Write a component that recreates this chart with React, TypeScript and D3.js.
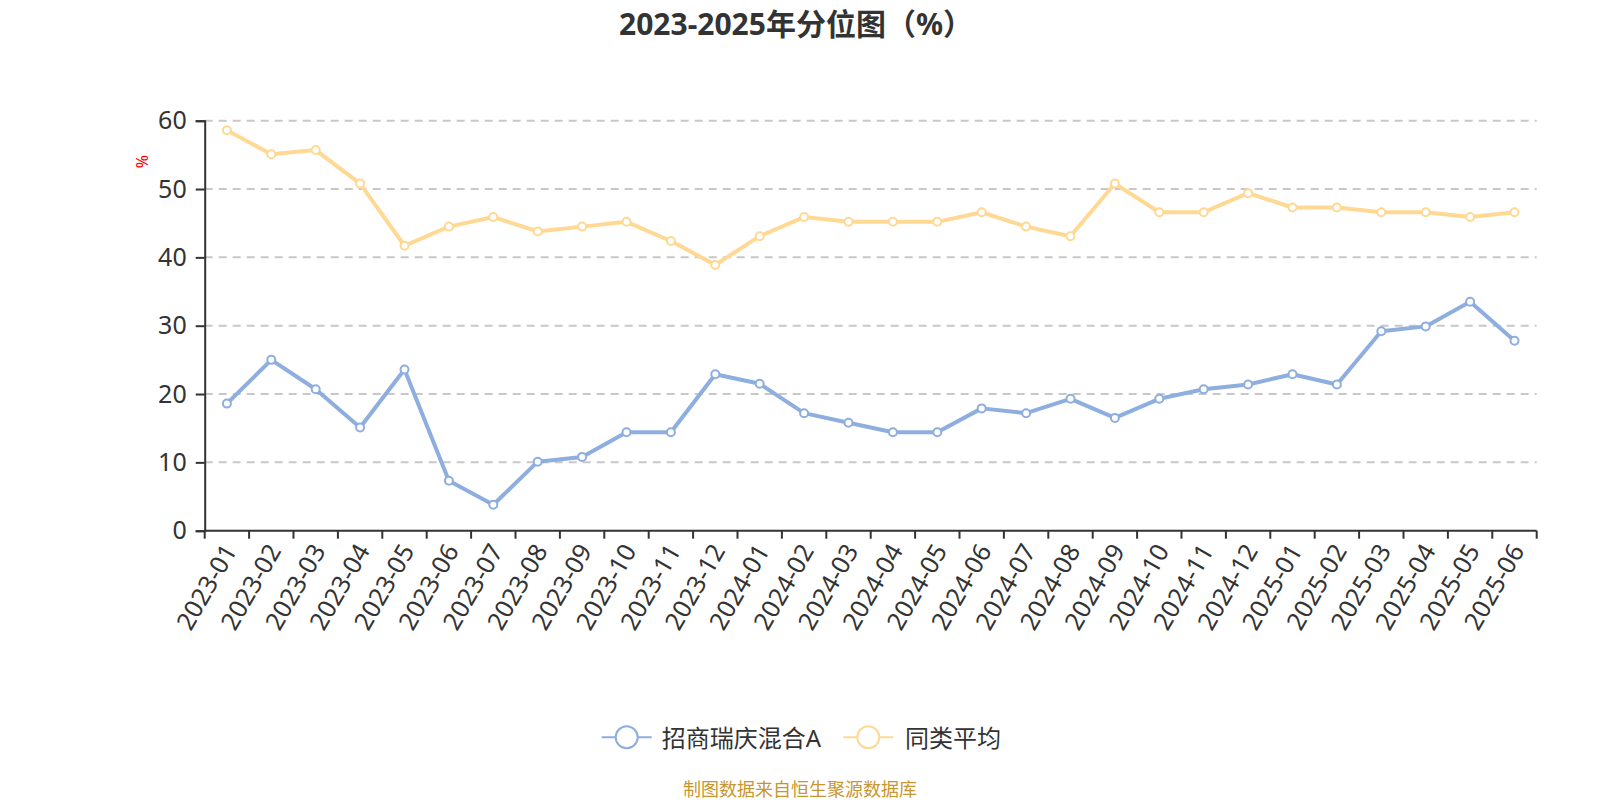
import { useEffect, useRef } from 'react';
import * as d3 from 'd3';

const months = [
  '2023-01', '2023-02', '2023-03', '2023-04', '2023-05', '2023-06',
  '2023-07', '2023-08', '2023-09', '2023-10', '2023-11', '2023-12',
  '2024-01', '2024-02', '2024-03', '2024-04', '2024-05', '2024-06',
  '2024-07', '2024-08', '2024-09', '2024-10', '2024-11', '2024-12',
  '2025-01', '2025-02', '2025-03', '2025-04', '2025-05', '2025-06',
];

const fundValues = [
  18.6, 25.0, 20.7, 15.1, 23.6, 7.3, 3.8, 10.1, 10.8, 14.4,
  14.4, 22.9, 21.5, 17.2, 15.8, 14.4, 14.4, 17.9, 17.2, 19.3,
  16.5, 19.3, 20.7, 21.4, 22.9, 21.4, 29.2, 29.9, 33.5, 27.8,
];

const peerValues = [
  58.6, 55.1, 55.7, 50.8, 41.7, 44.5, 45.9, 43.8, 44.5, 45.2,
  42.4, 38.9, 43.1, 45.9, 45.2, 45.2, 45.2, 46.6, 44.5, 43.1,
  50.8, 46.6, 46.6, 49.4, 47.3, 47.3, 46.6, 46.6, 45.9, 46.6,
];

const yTicks = [0, 10, 20, 30, 40, 50, 60];

const seriesNames = ['招商瑞庆混合A', '同类平均'];
const seriesColors = ['#8daede', '#ffd993'];

const FONT = '"Noto Sans", "Noto Sans CJK SC", sans-serif';

const App = () => {
  const svgRef = useRef<SVGSVGElement>(null);

  useEffect(() => {
    if (!svgRef.current) return;
    const svg = d3.select(svgRef.current);
    svg.selectAll('*').remove();

    const left = 204.7;
    const right = 1536.7;
    const top = 120.7;
    const bottom = 530.7;

    const x = d3.scaleBand<string>().domain(months).range([left, right]).padding(0);
    const y = d3.scaleLinear().domain([0, 60]).range([bottom, top]);
    const cx = (m: string) => (x(m) ?? 0) + x.bandwidth() / 2;

    // title
    svg.append('text')
      .attr('x', 796)
      .attr('y', 23)
      .attr('text-anchor', 'middle')
      .attr('dominant-baseline', 'central')
      .attr('font-family', FONT)
      .attr('font-size', 30)
      .attr('font-weight', 'bold')
      .attr('fill', '#333')
      .text('2023-2025年分位图（%）');

    // grid lines
    svg.append('g')
      .selectAll('line')
      .data(yTicks.filter(t => t > 0))
      .enter()
      .append('line')
      .attr('x1', left)
      .attr('x2', right)
      .attr('y1', d => y(d))
      .attr('y2', d => y(d))
      .attr('stroke', '#c8c8c8')
      .attr('stroke-width', 2)
      .attr('stroke-dasharray', '8,6');

    // y axis
    const yAxis = d3.axisLeft(y).tickValues(yTicks).tickSize(9).tickPadding(9);
    const gy = svg.append('g')
      .attr('transform', `translate(${left},0)`)
      .call(yAxis);
    gy.select('.domain').attr('stroke', '#333').attr('stroke-width', 2);
    gy.selectAll('.tick line').attr('stroke', '#333').attr('stroke-width', 2);
    gy.selectAll('.tick text')
      .attr('font-family', FONT)
      .attr('font-size', 25)
      .attr('fill', '#333');

    // y axis unit
    svg.append('text')
      .attr('transform', 'translate(141.7,161.7) rotate(-90)')
      .attr('text-anchor', 'middle')
      .attr('dominant-baseline', 'central')
      .attr('font-family', FONT)
      .attr('font-size', 16)
      .attr('fill', 'red')
      .text('%');

    // x axis
    const gx = svg.append('g');
    gx.append('line')
      .attr('x1', left)
      .attr('x2', right)
      .attr('y1', bottom)
      .attr('y2', bottom)
      .attr('stroke', '#333')
      .attr('stroke-width', 2);
    const boundaries = months.map(m => x(m) ?? 0).concat([right]);
    gx.selectAll('.xtick')
      .data(boundaries)
      .enter()
      .append('line')
      .attr('x1', d => d)
      .attr('x2', d => d)
      .attr('y1', bottom)
      .attr('y2', bottom + 8)
      .attr('stroke', '#333')
      .attr('stroke-width', 2);
    gx.selectAll('.xlabel')
      .data(months)
      .enter()
      .append('text')
      .attr('transform', d => `translate(${cx(d) + 2},${bottom + 15}) rotate(-60)`)
      .attr('text-anchor', 'end')
      .attr('dominant-baseline', 'central')
      .attr('font-family', FONT)
      .attr('font-size', 25)
      .attr('fill', '#333')
      .text(d => d);

    // series
    const allSeries = [fundValues, peerValues];
    allSeries.forEach((vals, si) => {
      const line = d3.line<number>()
        .x((_, i) => cx(months[i]))
        .y(d => y(d));
      svg.append('path')
        .datum(vals)
        .attr('d', line)
        .attr('fill', 'none')
        .attr('stroke', seriesColors[si])
        .attr('stroke-width', 4)
        .attr('stroke-linejoin', 'round');
      svg.append('g')
        .selectAll('circle')
        .data(vals)
        .enter()
        .append('circle')
        .attr('cx', (_, i) => cx(months[i]))
        .attr('cy', d => y(d))
        .attr('r', 4)
        .attr('fill', '#fff')
        .attr('stroke', seriesColors[si])
        .attr('stroke-width', 2);
    });

    // legend
    const legendItems = [
      { x: 601.7, textX: 661.7 },
      { x: 843.3, textX: 905 },
    ];
    const legendY = 737.3;
    legendItems.forEach((it, i) => {
      const g = svg.append('g');
      g.append('line')
        .attr('x1', it.x)
        .attr('x2', it.x + 50)
        .attr('y1', legendY)
        .attr('y2', legendY)
        .attr('stroke', seriesColors[i])
        .attr('stroke-width', 2);
      g.append('circle')
        .attr('cx', it.x + 25)
        .attr('cy', legendY)
        .attr('r', 11)
        .attr('fill', '#fff')
        .attr('stroke', seriesColors[i])
        .attr('stroke-width', 2);
      g.append('text')
        .attr('x', it.textX)
        .attr('y', legendY)
        .attr('dominant-baseline', 'central')
        .attr('font-family', FONT)
        .attr('font-size', 24)
        .attr('fill', '#333')
        .text(seriesNames[i]);
    });

    // source note
    svg.append('text')
      .attr('x', 800)
      .attr('y', 789)
      .attr('text-anchor', 'middle')
      .attr('dominant-baseline', 'central')
      .attr('font-family', FONT)
      .attr('font-size', 18)
      .attr('fill', '#c8962e')
      .text('制图数据来自恒生聚源数据库');
  }, []);

  return (
    <svg
      ref={svgRef}
      width={1600}
      height={800}
      style={{ position: 'absolute', left: 0, top: 0, background: '#fff' }}
    />
  );
};

export default App;
